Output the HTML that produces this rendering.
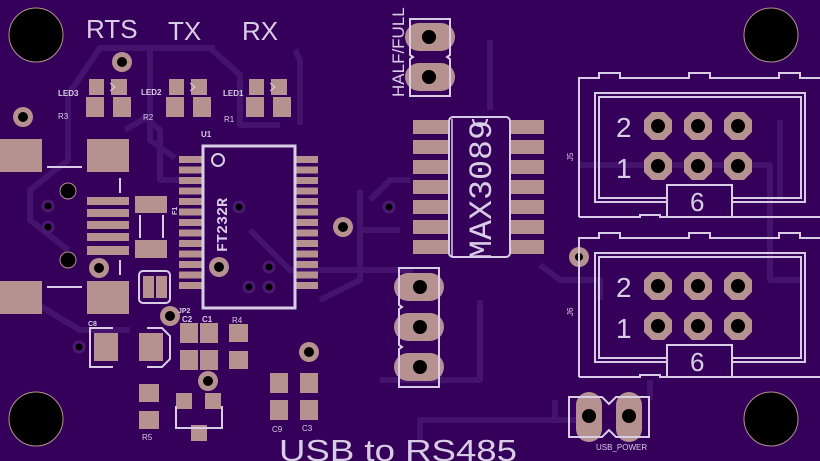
<!DOCTYPE html>
<html><head><meta charset="utf-8"><style>
html,body{margin:0;padding:0;background:#35005a;}
svg{display:block}
text{font-family:"Liberation Sans",sans-serif;fill:#d9cde6}
.m{font-family:"Liberation Mono",monospace}
</style></head><body>
<svg width="820" height="461" viewBox="0 0 820 461" xmlns="http://www.w3.org/2000/svg">
<defs><polygon id="oc" points="-6,-14 6,-14 14,-6 14,6 6,14 -6,14 -14,6 -14,-6"/></defs>
<rect width="820" height="461" fill="#35005a"/>
<!-- traces -->
<g stroke="#44146c" stroke-width="6" fill="none" stroke-linejoin="round">
<path d="M150,48 L210,48 L215,48"/>
<path d="M68,250 L30,220 L30,190 L68,160 L68,95 L100,48 L210,48 L240,75 L240,125 L280,125"/>
<path d="M150,48 L150,140 L175,158"/>
<path d="M125,130 L145,118 L160,130 L160,180 L180,180"/>
<path d="M300,125 L300,60 L295,50"/>
<path d="M490,40 L490,110"/>
<path d="M413,270 L290,270 L250,230"/>
<path d="M360,190 L360,280 L320,300"/>
<path d="M580,165 L770,165 L770,280 L800,280"/>
<path d="M555,400 L555,420 L420,420 L420,440"/>
<path d="M380,380 L480,380 L480,300"/>
<path d="M30,300 L80,330 L130,330"/>
<path d="M400,230 L360,230"/>
<path d="M520,420 L580,420"/>
<path d="M600,300 L600,280 L560,280 L540,265"/>
<path d="M410,180 L390,180 L370,200"/>
<path d="M650,380 L650,400"/>
<path d="M780,200 L780,120"/>
</g>
<!-- mounting holes -->
<g fill="#000" stroke="#b5928f" stroke-width="1">
<circle cx="36" cy="35" r="27"/><circle cx="771" cy="35" r="27"/>
<circle cx="36" cy="419" r="27"/><circle cx="771" cy="419" r="27"/>
</g>
<!-- top labels -->
<text x="86" y="38" font-size="26">RTS</text>
<text x="168" y="40" font-size="26">TX</text>
<text x="242" y="40" font-size="26">RX</text>
<text transform="translate(404,97) rotate(-90)" font-size="17">HALF/FULL</text>
<g fill="#b5928f">
<rect x="89" y="79" width="15" height="16"/><rect x="111" y="79" width="16" height="16"/>
<rect x="86" y="97" width="18" height="20"/><rect x="113" y="97" width="18" height="20"/>
<rect x="169" y="79" width="15" height="16"/><rect x="191" y="79" width="16" height="16"/>
<rect x="166" y="97" width="18" height="20"/><rect x="193" y="97" width="18" height="20"/>
<rect x="249" y="79" width="15" height="16"/><rect x="271" y="79" width="16" height="16"/>
<rect x="246" y="97" width="18" height="20"/><rect x="273" y="97" width="18" height="20"/>
<rect x="0" y="139" width="42" height="33"/><rect x="87" y="139" width="42" height="33"/>
<rect x="0" y="281" width="42" height="33"/><rect x="87" y="281" width="42" height="33"/>
<rect x="87" y="197" width="42" height="8"/><rect x="87" y="209" width="42" height="8"/>
<rect x="87" y="221" width="42" height="8"/><rect x="87" y="233" width="42" height="8"/>
<rect x="87" y="246" width="42" height="9"/>
<rect x="135" y="196" width="32" height="17"/><rect x="135" y="240" width="32" height="18"/>
<rect x="143" y="276" width="11" height="22"/><rect x="156" y="276" width="11" height="22"/>
<rect x="94" y="333" width="24" height="28"/><rect x="139" y="333" width="24" height="28"/>
<rect x="180" y="323" width="18" height="20"/><rect x="180" y="350" width="18" height="20"/>
<rect x="200" y="323" width="18" height="20"/><rect x="200" y="350" width="18" height="20"/>
<rect x="229" y="324" width="19" height="18"/><rect x="229" y="351" width="19" height="18"/>
<rect x="139" y="384" width="20" height="18"/><rect x="139" y="411" width="20" height="18"/>
<rect x="176" y="393" width="16" height="16"/><rect x="205" y="393" width="16" height="16"/>
<rect x="191" y="425" width="16" height="16"/>
<rect x="270" y="373" width="18" height="20"/><rect x="270" y="400" width="18" height="20"/>
<rect x="300" y="373" width="18" height="20"/><rect x="300" y="400" width="18" height="20"/>
</g>
<g fill="#b5928f">
<rect x="179" y="156" width="23" height="7"/><rect x="296" y="156" width="22" height="7"/>
<rect x="179" y="166.5" width="23" height="7"/><rect x="296" y="166.5" width="22" height="7"/>
<rect x="179" y="177" width="23" height="7"/><rect x="296" y="177" width="22" height="7"/>
<rect x="179" y="187.5" width="23" height="7"/><rect x="296" y="187.5" width="22" height="7"/>
<rect x="179" y="198" width="23" height="7"/><rect x="296" y="198" width="22" height="7"/>
<rect x="179" y="208.5" width="23" height="7"/><rect x="296" y="208.5" width="22" height="7"/>
<rect x="179" y="219" width="23" height="7"/><rect x="296" y="219" width="22" height="7"/>
<rect x="179" y="229.5" width="23" height="7"/><rect x="296" y="229.5" width="22" height="7"/>
<rect x="179" y="240" width="23" height="7"/><rect x="296" y="240" width="22" height="7"/>
<rect x="179" y="250.5" width="23" height="7"/><rect x="296" y="250.5" width="22" height="7"/>
<rect x="179" y="261" width="23" height="7"/><rect x="296" y="261" width="22" height="7"/>
<rect x="179" y="271.5" width="23" height="7"/><rect x="296" y="271.5" width="22" height="7"/>
<rect x="179" y="282" width="23" height="7"/><rect x="296" y="282" width="22" height="7"/>
</g>
<g fill="#b5928f">
<rect x="413" y="120" width="35" height="14"/><rect x="510" y="120" width="34" height="14"/>
<rect x="413" y="140" width="35" height="14"/><rect x="510" y="140" width="34" height="14"/>
<rect x="413" y="160" width="35" height="14"/><rect x="510" y="160" width="34" height="14"/>
<rect x="413" y="180" width="35" height="14"/><rect x="510" y="180" width="34" height="14"/>
<rect x="413" y="200" width="35" height="14"/><rect x="510" y="200" width="34" height="14"/>
<rect x="413" y="220" width="35" height="14"/><rect x="510" y="220" width="34" height="14"/>
<rect x="413" y="240" width="35" height="14"/><rect x="510" y="240" width="34" height="14"/>
</g>
<g fill="#b5928f">
<rect x="405" y="23" width="50" height="28" rx="14"/><rect x="405" y="63" width="50" height="28" rx="14"/>
<rect x="394" y="273" width="50" height="28" rx="14"/><rect x="394" y="313" width="50" height="28" rx="14"/><rect x="394" y="353" width="50" height="28" rx="14"/>
<rect x="576" y="392" width="26" height="50" rx="13"/><rect x="616" y="392" width="26" height="50" rx="13"/>
</g>
<g fill="#b5928f">
<circle cx="122" cy="62" r="10"/><circle cx="23" cy="117" r="10"/><circle cx="99" cy="268" r="10"/>
<circle cx="219" cy="267" r="10"/><circle cx="170" cy="316" r="10"/><circle cx="208" cy="381" r="10"/>
<circle cx="309" cy="352" r="10"/><circle cx="343" cy="227" r="10"/><circle cx="579" cy="257" r="10"/>
</g>
<g fill="#b5928f">
<use href="#oc" x="658" y="126"/><use href="#oc" x="698" y="126"/><use href="#oc" x="738" y="126"/>
<use href="#oc" x="658" y="166"/><use href="#oc" x="698" y="166"/><use href="#oc" x="738" y="166"/>
<use href="#oc" x="658" y="286"/><use href="#oc" x="698" y="286"/><use href="#oc" x="738" y="286"/>
<use href="#oc" x="658" y="326"/><use href="#oc" x="698" y="326"/><use href="#oc" x="738" y="326"/>
</g>
<g fill="#000">
<circle cx="429" cy="37" r="7"/><circle cx="429" cy="77" r="7"/>
<circle cx="420" cy="287" r="7"/><circle cx="420" cy="327" r="7"/><circle cx="420" cy="367" r="7"/>
<circle cx="589" cy="416" r="7"/><circle cx="629" cy="416" r="7"/>
<circle cx="122" cy="62" r="5"/><circle cx="23" cy="117" r="5"/><circle cx="99" cy="268" r="5"/>
<circle cx="219" cy="267" r="5"/><circle cx="170" cy="316" r="5"/><circle cx="208" cy="381" r="5"/>
<circle cx="309" cy="352" r="5"/><circle cx="343" cy="227" r="5"/><circle cx="579" cy="257" r="4"/>
<circle cx="658" cy="126" r="7"/><circle cx="698" cy="126" r="7"/><circle cx="738" cy="126" r="7"/>
<circle cx="658" cy="166" r="7"/><circle cx="698" cy="166" r="7"/><circle cx="738" cy="166" r="7"/>
<circle cx="658" cy="286" r="7"/><circle cx="698" cy="286" r="7"/><circle cx="738" cy="286" r="7"/>
<circle cx="658" cy="326" r="7"/><circle cx="698" cy="326" r="7"/><circle cx="738" cy="326" r="7"/>
</g>
<g fill="#000" stroke="#b5928f" stroke-width="1">
<circle cx="68" cy="191" r="8"/><circle cx="68" cy="260" r="8"/>
</g>
<g fill="#000" stroke="#4a1a72" stroke-width="3">
<circle cx="48" cy="206" r="5"/><circle cx="48" cy="227" r="5"/><circle cx="79" cy="347" r="5"/>
<circle cx="239" cy="207" r="5"/><circle cx="389" cy="207" r="5"/><circle cx="269" cy="267" r="5"/>
<circle cx="269" cy="287" r="5"/><circle cx="249" cy="287" r="5"/>
</g>
<g stroke="#d9cde6" fill="none" stroke-width="2">
<path d="M47,167 H82 M47,287 H82 M120,178 V193 M120,260 V275"/>
<path d="M140,215 V238 M163,215 V238"/>
<rect x="139" y="271" width="31" height="32" rx="4"/>
<path d="M113,328 H90 V367 H113 M147,328 H162 L170,336 V359 L162,367 H147"/>
<path d="M176,406 V428 H222 V406"/>
<rect x="203" y="146" width="92" height="162" stroke-width="3"/>
<circle cx="218" cy="160" r="6"/>
<path d="M110,83 L115,87 L110,91 M190,83 L195,87 L190,91 M270,83 L275,87 L270,91" stroke-width="1"/>
<rect x="449" y="117" width="61" height="140" rx="4"/>
<path d="M452,119 V256" stroke-width="1.5"/>
<path d="M473,119 A7,7 0 0 0 487,119"/>
<path d="M410,19 V55 L413,57 L410,59 V96 H450 V59 L447,57 L450,55 V19 Z"/>
<path d="M399,268 V305 L402,307 L399,309 V345 L402,347 L399,349 V387 H439 V268 Z"/>
<path d="M569,397 H602 L609,404 L616,397 H649 V437 H616 L609,430 L602,437 H569 Z"/>
</g>
<g stroke="#d9cde6" fill="none" stroke-width="2">
<path d="M579,217 V78 H599 V73 H620 V78 H689 V73 H710 V78 H779 V73 H800 V78 H820"/>
<path d="M579,217 H640 V215 H660 V217 H820"/>
<rect x="595" y="93" width="210" height="109"/>
<rect x="599" y="97" width="202" height="101"/>
<rect x="667" y="185" width="65" height="32" fill="#35005a"/>
<path d="M579,377 V238 H599 V233 H620 V238 H689 V233 H710 V238 H779 V233 H800 V238 H820"/>
<path d="M579,377 H640 V375 H660 V377 H820"/>
<rect x="595" y="253" width="210" height="109"/>
<rect x="599" y="257" width="202" height="101"/>
<rect x="667" y="345" width="65" height="32" fill="#35005a"/>
</g>
<text x="58" y="96" font-size="8" font-weight="bold">LED3</text>
<text x="141" y="95" font-size="8" font-weight="bold">LED2</text>
<text x="223" y="96" font-size="8" font-weight="bold">LED1</text>
<text x="58" y="119" font-size="8">R3</text>
<text x="143" y="120" font-size="8">R2</text>
<text x="224" y="122" font-size="8">R1</text>
<text x="201" y="137" font-size="8" font-weight="bold">U1</text>
<text transform="translate(227,252) rotate(-90)" font-size="15" font-weight="bold" class="m">FT232R</text>
<text transform="translate(177,215) rotate(-90)" font-size="7" font-weight="bold">F1</text>
<text x="88" y="326" font-size="7" font-weight="bold">C8</text>
<text x="178" y="313" font-size="7" font-weight="bold">JP2</text>
<text x="182" y="322" font-size="8" font-weight="bold">C2</text>
<text x="202" y="322" font-size="8" font-weight="bold">C1</text>
<text x="232" y="323" font-size="8">R4</text>
<text x="142" y="440" font-size="8">R5</text>
<text x="272" y="432" font-size="8">C9</text>
<text x="302" y="431" font-size="8">C3</text>
<text transform="translate(491,260) rotate(-90)" font-size="32" class="m" textLength="140" lengthAdjust="spacingAndGlyphs">MAX3089</text>
<text transform="translate(573,161) rotate(-90)" font-size="8">J5</text>
<text transform="translate(573,316) rotate(-90)" font-size="8">J6</text>
<text x="616" y="137" font-size="28">2</text>
<text x="616" y="178" font-size="28">1</text>
<text x="616" y="297" font-size="28">2</text>
<text x="616" y="338" font-size="28">1</text>
<text x="690" y="211" font-size="26">6</text>
<text x="690" y="371" font-size="26">6</text>
<text x="596" y="450" font-size="8">USB_POWER</text>
<text x="279" y="461" font-size="31" textLength="238" lengthAdjust="spacingAndGlyphs">USB to RS485</text>
</svg>
</body></html>
